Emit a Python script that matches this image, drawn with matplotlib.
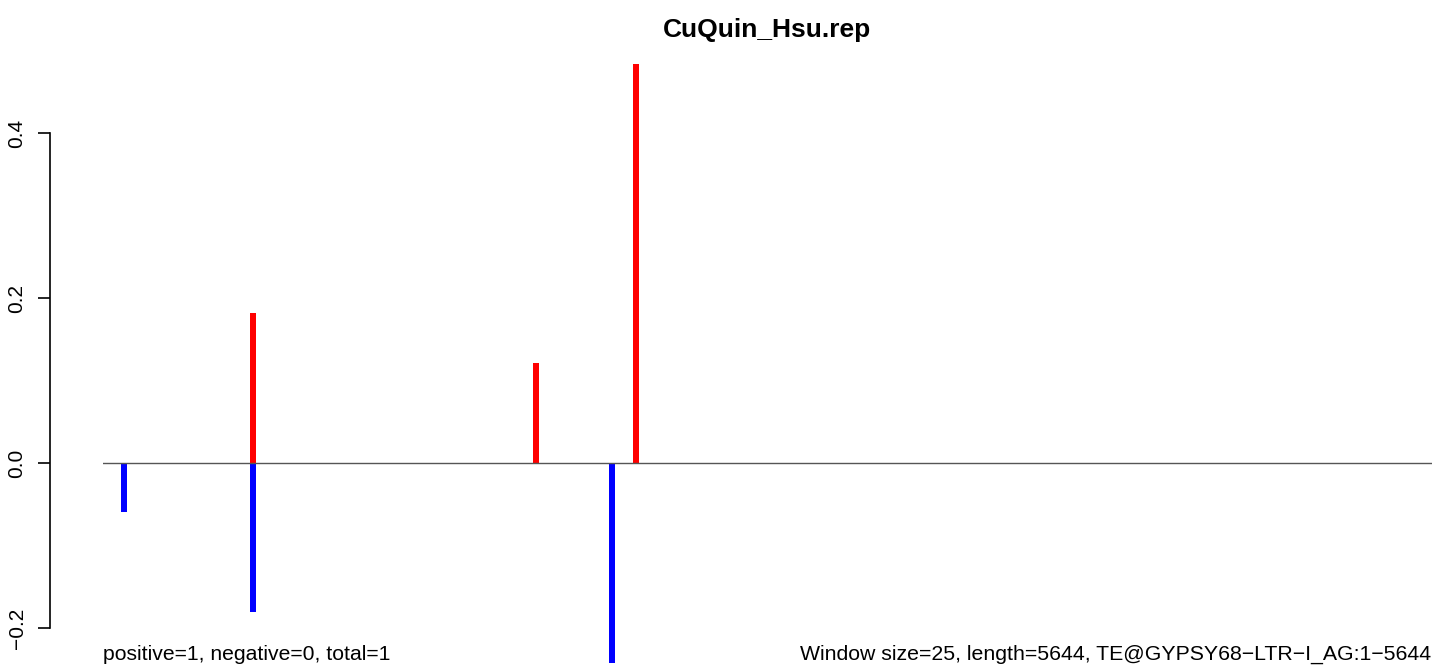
import matplotlib
matplotlib.use("Agg")
import matplotlib.pyplot as plt

plt.rcParams['font.family'] = ['Liberation Sans', 'DejaVu Sans']

title = "CuQuin_Hsu.rep"
window = 25
length = 5644
pos_starts = [625, 1825, 2250]
pos_values = [0.182, 0.121, 0.484]
neg_starts = [75, 625, 2150]
neg_values = [-0.059, -0.181, -0.242]
yticks = [-0.2, 0.0, 0.2, 0.4]
ytick_labels = ["\u22120.2", "0.0", "0.2", "0.4"]
left_note = "positive=1, negative=0, total=1"
right_note = "Window size=25, length=5644, TE@GYPSY68\u2212LTR\u2212I_AG:1\u22125644"

W, H = 1433, 666
fig = plt.figure(figsize=(W / 100, H / 100), dpi=100)
ax = fig.add_axes([103 / W, 0, (1432 - 103) / W, 1 - 40 / H])

ax.bar(pos_starts, pos_values, width=window, align='edge', color='#FF0000', linewidth=0)
ax.bar(neg_starts, neg_values, width=window, align='edge', color='#0000FF', linewidth=0)
ax.axhline(0, color='#555555', linewidth=1, zorder=5)

ax.set_xlim(0, length)
ax.set_ylim(-0.246, 0.513)

for s in ['top', 'right', 'bottom']:
    ax.spines[s].set_visible(False)
ax.spines['left'].set_position(('outward', 38))
ax.spines['left'].set_bounds(-0.2, 0.4)
ax.spines['left'].set_linewidth(1.2)
ax.set_xticks([])
ax.set_yticks(yticks)
ax.set_yticklabels(ytick_labels, rotation=90, va='center', fontsize=15)
ax.tick_params(axis='y', length=9, width=1.2, pad=8)

fig.text((103 + 1432) / 2 / W, 1 - 30 / H, title, ha='center', va='center',
         fontsize=19, fontweight='bold')
fig.text(103 / W, 1 - 654 / H, left_note, ha='left', va='center', fontsize=15.2)
fig.text(1431 / W, 1 - 654 / H, right_note, ha='right', va='center', fontsize=15.3)

fig.savefig("out.png", dpi=100)
